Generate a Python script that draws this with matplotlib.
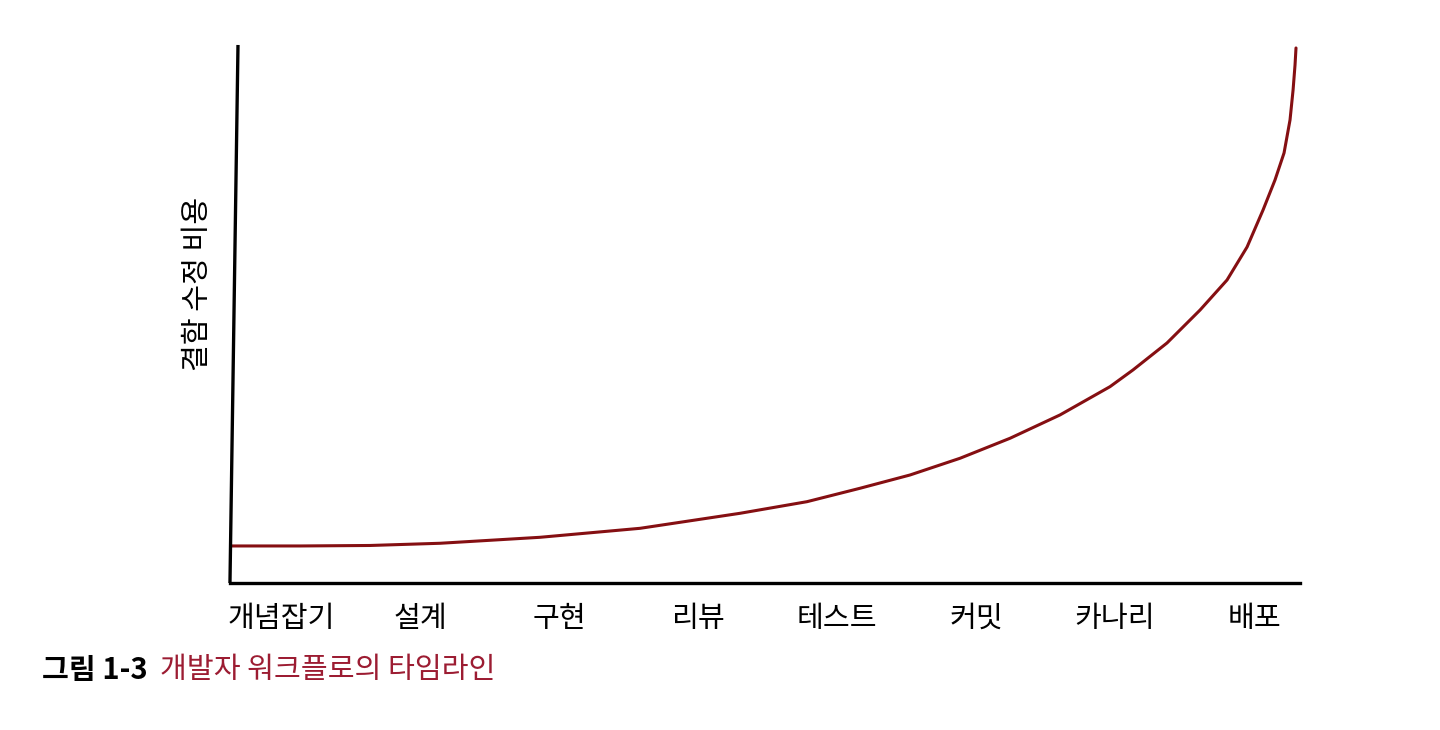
import matplotlib
matplotlib.use("Agg")
import matplotlib.pyplot as plt

plt.rcParams['font.family'] = ['Noto Sans CJK KR', 'DejaVu Sans']

# x tick categories (workflow stages)
stages = ['개념잡기', '설계', '구현', '리뷰', '테스트', '커밋', '카나리', '배포']

# curve (x in stage units, y as % of axis height)
curve_x = [-0.367, 0.137, 0.640, 1.144, 1.863, 2.583, 3.302, 3.784, 4.165,
           4.525, 4.885, 5.245, 5.604, 5.964, 6.129, 6.374, 6.612, 6.806,
           6.950, 7.065, 7.151, 7.216, 7.259, 7.281, 7.295, 7.302]
curve_y = [6.88, 6.88, 6.97, 7.38, 8.49, 10.16, 12.95, 15.11, 17.60,
           20.07, 23.18, 26.90, 31.23, 36.49, 39.59, 44.61, 50.74, 56.32,
           62.45, 69.33, 74.91, 79.93, 86.06, 91.64, 96.28, 99.44]

ylabel = '결함 수정 비용'
fig_no = '그림 1-3'
caption = '개발자 워크플로의 타임라인'

fig = plt.figure(figsize=(14.4, 7.3), dpi=100)
ax = fig.add_axes([0.1597, 0.2014, 0.7431, 0.7370])

ax.plot(curve_x, curve_y, color='#850f12', linewidth=2.2,
        solid_capstyle='round', solid_joinstyle='round')

ax.set_xlim(-0.367, 7.331)
ax.set_ylim(0, 100)

for side in ['top', 'right', 'left']:
    ax.spines[side].set_visible(False)
ax.spines['bottom'].set_linewidth(2.4)
ax.spines['bottom'].set_color('black')
# the vertical axis leans slightly in the drawing
ax.plot([0.0, 0.0075], [0.0, 1.0], transform=ax.transAxes, color='black',
        linewidth=2.4, clip_on=False, solid_capstyle='butt')

ax.set_xticks(range(len(stages)))
ax.set_xticklabels(stages, fontsize=21)
ax.tick_params(axis='x', length=0, pad=15)
ax.set_yticks([])

fig.text(198 / 1440, (730 - 284) / 730, ylabel, rotation=90, ha='center',
         va='center', fontsize=21)

fig.text(42 / 1440, (730 - 670) / 730, fig_no, fontsize=21,
         fontweight='bold', ha='left', va='center', color='black')
fig.text(160 / 1440, (730 - 670) / 730, caption, fontsize=21,
         ha='left', va='center', color='#9c1c32')

fig.savefig('out.png', dpi=100, facecolor='white')
